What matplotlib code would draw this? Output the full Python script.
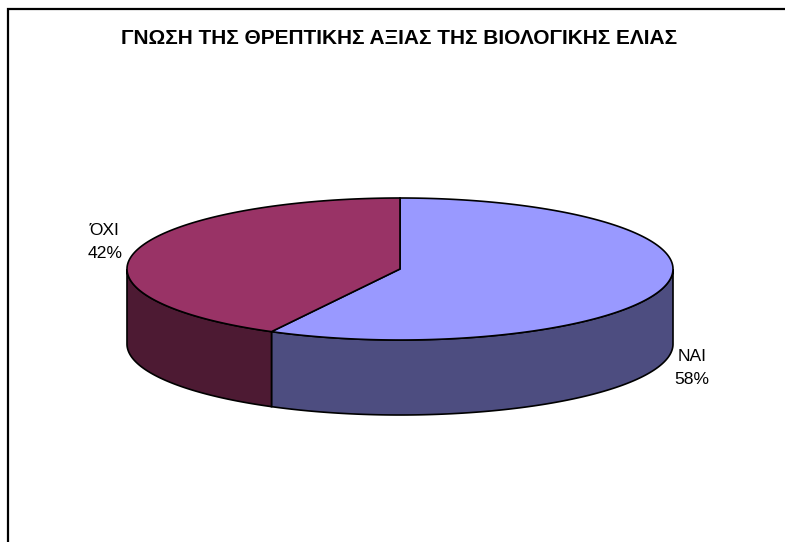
import numpy as np
import matplotlib
matplotlib.use('Agg')
import matplotlib.pyplot as plt
from matplotlib.patches import Polygon

title = 'ΓΝΩΣΗ ΤΗΣ ΘΡΕΠΤΙΚΗΣ ΑΞΙΑΣ ΤΗΣ ΒΙΟΛΟΓΙΚΗΣ ΕΛΙΑΣ'
labels = ['ΝΑΙ', 'ΌΧΙ']
values = [57.8, 42.2]
top_colors = ['#9999ff', '#993366']
side_colors = ['#4d4d80', '#4d1a33']

plt.rcParams['font.family'] = ['Liberation Sans', 'DejaVu Sans']

# pie geometry in pixels
cx, cy = 400, 269
rx, ry = 273, 71
depth = 75


def rim(a0, a1, n=200):
    # angles in degrees, clockwise from twelve o'clock
    t = np.radians(np.linspace(a0, a1, n))
    return cx + rx * np.sin(t), cy - ry * np.cos(t)


fig = plt.figure(figsize=(7.85, 5.42), dpi=100)
ax = fig.add_axes([0, 0, 1, 1])
ax.set_xlim(0, 785)
ax.set_ylim(542, 0)
ax.axis('off')

# chart frame, only left and top fall inside the picture
ax.plot([8, 8, 785], [542, 9, 9], c='k', lw=1.6, solid_joinstyle='miter')

stops = np.cumsum([0] + values) / sum(values) * 360

# side walls, only the part of the rim facing the viewer (90 to 270 deg)
for i in range(len(values)):
    a0, a1 = max(stops[i], 90), min(stops[i + 1], 270)
    if a0 >= a1:
        continue
    x, y = rim(a0, a1)
    xy = np.r_[np.c_[x, y], np.c_[x[::-1], y[::-1] + depth]]
    ax.add_patch(Polygon(xy, closed=True, fc=side_colors[i], ec='k', lw=1.2))

# top slices
for i in range(len(values)):
    x, y = rim(stops[i], stops[i + 1])
    xy = np.r_[[[cx, cy]], np.c_[x, y]]
    ax.add_patch(Polygon(xy, closed=True, fc=top_colors[i], ec='k', lw=1.2))

ax.text(399, 38, title, ha='center', va='center', fontsize=15, fontweight='bold', color='k')
ax.text(692, 368, '%s\n%.0f%%' % (labels[0], values[0]), ha='center', va='center',
        fontsize=12.6, linespacing=1.7, color='k')
ax.text(105, 242, '%s\n%.0f%%' % (labels[1], values[1]), ha='center', va='center',
        fontsize=12.6, linespacing=1.7, color='k')

fig.savefig('out.png', dpi=100)
